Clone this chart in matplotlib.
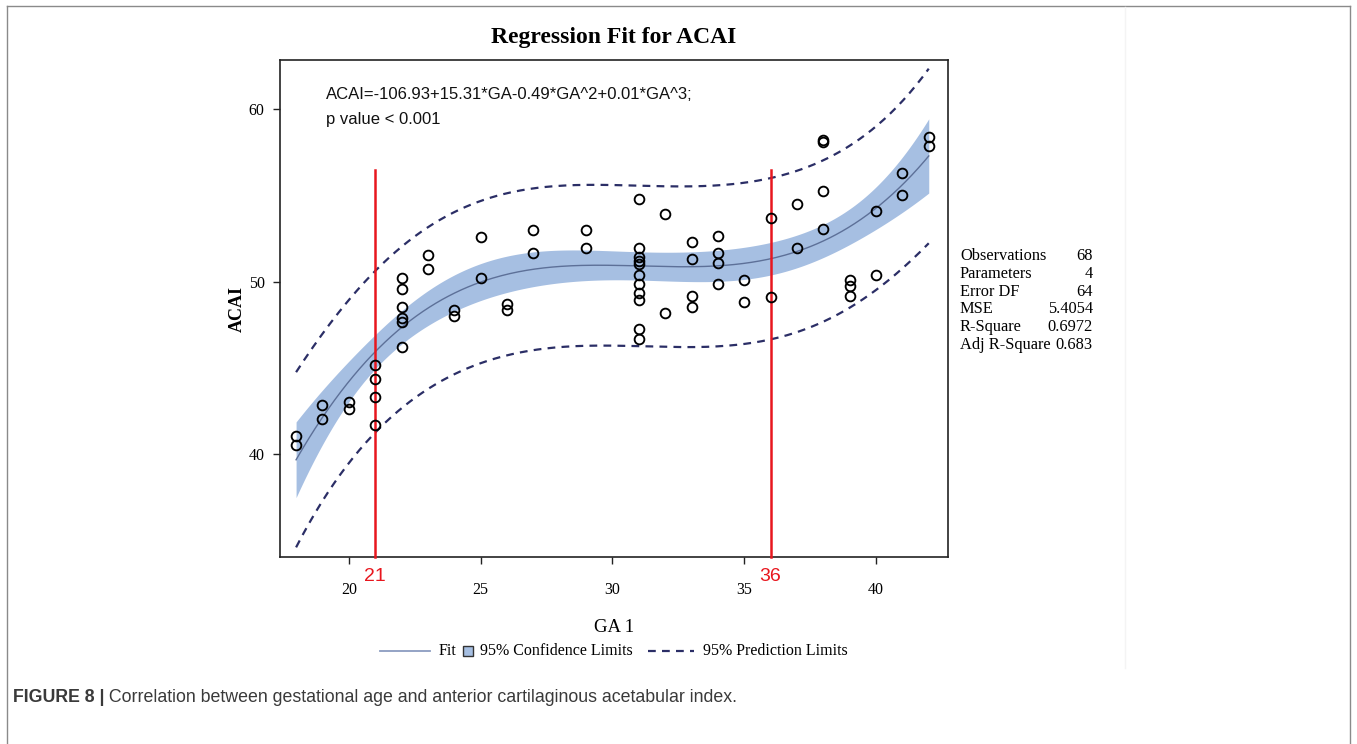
import numpy as np
import matplotlib
matplotlib.use("Agg")
import matplotlib.pyplot as plt
import matplotlib.transforms as mtransforms
from matplotlib.lines import Line2D

# ---------------- data ----------------
ga = [18, 18, 19, 19, 20, 20, 21, 21, 21, 21,
      22, 22, 22, 22, 22, 22, 23, 23, 24, 24,
      25, 25, 26, 26, 27, 27, 29, 29,
      31, 31, 31, 31, 31, 31, 31, 31, 31, 31, 31,
      32, 32, 33, 33, 33, 33, 34, 34, 34, 34,
      35, 35, 36, 36, 37, 37, 38, 38, 38, 38,
      39, 39, 39, 40, 40, 41, 41, 42, 42]
acai = [41.04, 40.52, 42.83, 42.02, 43.02, 42.64, 45.20, 44.34, 43.35, 41.68,
        50.21, 49.56, 48.55, 47.90, 47.69, 46.20, 51.54, 50.71, 48.38, 48.03,
        52.62, 50.19, 48.71, 48.36, 52.99, 51.66, 52.99, 51.97,
        54.82, 51.98, 51.41, 51.21, 51.02, 50.40, 49.86, 49.34, 48.96, 47.26, 46.69,
        53.91, 48.19, 52.31, 51.33, 49.15, 48.55, 52.66, 51.64, 51.06, 49.86,
        50.12, 48.80, 53.72, 49.13, 54.49, 51.98, 58.19, 58.09, 55.26, 53.08,
        50.10, 49.73, 49.15, 54.10, 50.40, 56.32, 55.01, 58.38, 57.86]

stat_labels = ["Observations", "Parameters", "Error DF", "MSE", "R-Square", "Adj R-Square"]
stat_values = ["68", "4", "64", "5.4054", "0.6972", "0.683"]
cut_points = [21, 36]
x_ticks = [20, 25, 30, 35, 40]
y_ticks = [40, 50, 60]
legend_labels = ["Fit", "95% Confidence Limits", "95% Prediction Limits"]
equation = "ACAI=-106.93+15.31*GA-0.49*GA^2+0.01*GA^3;"
pvalue_text = "p value < 0.001"
t_crit = 1.9977  # t(0.975, 64)

# ---------------- cubic regression with bands ----------------
x = np.asarray(ga, float)
y = np.asarray(acai, float)
X = np.vander(x, 4, increasing=True)
beta, *_ = np.linalg.lstsq(X, y, rcond=None)
resid = y - X @ beta
dof = len(x) - 4
mse = resid @ resid / dof
xtx_inv = np.linalg.inv(X.T @ X)
xg = np.linspace(x.min(), x.max(), 300)
Xg = np.vander(xg, 4, increasing=True)
fit = Xg @ beta
h = np.einsum("ij,jk,ik->i", Xg, xtx_inv, Xg)
ci = t_crit * np.sqrt(mse * h)
pi = t_crit * np.sqrt(mse * (1 + h))

# ---------------- figure ----------------
W, H = 1357, 744
fig = plt.figure(figsize=(W / 100, H / 100), dpi=100)
fig.patch.set_facecolor("white")


def fx(px):
    return px / W


def fy(py):
    return 1 - py / H


# outer frame (top, left, right) and faint paste edge
border_kw = dict(color="#8a8a8a", lw=1.0, transform=fig.transFigure)
fig.add_artist(Line2D([fx(7), fx(1350)], [fy(6), fy(6)], **border_kw))
fig.add_artist(Line2D([fx(7), fx(7)], [0, fy(6)], **border_kw))
fig.add_artist(Line2D([fx(1350), fx(1350)], [0, fy(6)], **border_kw))
fig.add_artist(Line2D([fx(1125), fx(1125)], [fy(668), fy(7)], color="#f4f4f4", lw=1.0,
                      transform=fig.transFigure))

left, right, top, bottom = 280, 948, 60, 557
ax = fig.add_axes([fx(left), fy(bottom), (right - left) / W, (bottom - top) / H])

band_color = "#a6bfe2"
fit_color = "#5d7098"
pi_color = "#2b2e66"
red = "#e8161e"
serif = "Liberation Serif"
sans = "Liberation Sans"

ax.fill_between(xg, fit - ci, fit + ci, color=band_color, lw=0, zorder=1)
ax.plot(xg, fit, color=fit_color, lw=1.0, zorder=2)
for sgn in (1, -1):
    ax.plot(xg, fit + sgn * pi, color=pi_color, lw=1.6, dashes=(3.5, 2.8), zorder=2)
ax.plot(x, y, linestyle="none", marker="o", markersize=7.0, markerfacecolor="none",
        markeredgecolor="black", markeredgewidth=1.35, zorder=4)

ylo, yhi = 34.05, 62.85
ax.set_xlim(17.39, 42.73)
ax.set_ylim(ylo, yhi)

# red cut lines with labels
for c in cut_points:
    ax.plot([c, c], [ylo, 56.5], color=red, lw=1.8, zorder=3, clip_on=False)
blend = mtransforms.blended_transform_factory(ax.transData, ax.transAxes)
for c in cut_points:
    ax.annotate(str(c), xy=(c, 0), xycoords=blend, xytext=(0, -14), textcoords="offset points",
                ha="center", va="center", color=red, fontsize=14, family=sans)

ax.set_xticks(x_ticks)
ax.set_yticks(y_ticks)
ax.set_xticklabels([str(v) for v in x_ticks], family=serif, fontsize=11.5)
ax.set_yticklabels([str(v) for v in y_ticks], family=serif, fontsize=11.5)
ax.tick_params(axis="both", direction="out", length=5, width=1.0, color="#222")
ax.tick_params(axis="x", pad=13)
ax.tick_params(axis="y", pad=6)
for sp in ax.spines.values():
    sp.set_color("#222")
    sp.set_linewidth(1.2)

ax.set_xlabel("GA 1", family=serif, fontsize=13.5, labelpad=15)
ax.set_ylabel("ACAI", family=serif, fontsize=13, fontweight="bold", labelpad=2)

# equation text
ax.text(0.069, 0.931, equation, transform=ax.transAxes, family=sans,
        fontsize=12, ha="left", va="center", color="#111")
ax.text(0.069, 0.880, pvalue_text, transform=ax.transAxes, family=sans,
        fontsize=12, ha="left", va="center", color="#111")

# title
fig.text(fx((left + right) / 2), fy(38), "Regression Fit for ACAI", ha="center", va="center",
         family=serif, fontsize=17, fontweight="bold")

# statistics table
row0, drow = 256, 17.8
for i, (lab, val) in enumerate(zip(stat_labels, stat_values)):
    yy = fy(row0 + i * drow)
    fig.text(fx(960), yy, lab, ha="left", va="center", family=serif, fontsize=11.8)
    fig.text(fx(1093), yy, val, ha="right", va="center", family=serif, fontsize=11.8)

# legend (drawn piece by piece to match the SAS layout)
ly = fy(651)
leg_font = dict(family=serif, fontsize=11.5, va="center", ha="left")
fig.add_artist(Line2D([fx(380), fx(430)], [ly, ly], color="#8b9cc0", lw=1.3,
                      transform=fig.transFigure))
fig.text(fx(439), ly, legend_labels[0], **leg_font)
fig.add_artist(Line2D([fx(468)], [ly], linestyle="none", marker="s", markersize=7.5,
                      markerfacecolor=band_color, markeredgecolor="#333", markeredgewidth=1.0,
                      transform=fig.transFigure))
fig.text(fx(480), ly, legend_labels[1], **leg_font)
fig.add_artist(Line2D([fx(648), fx(694)], [ly, ly], color=pi_color, lw=1.6, dashes=(3.5, 2.8),
                      transform=fig.transFigure))
fig.text(fx(703), ly, legend_labels[2], **leg_font)

# caption
t1 = fig.text(fx(13), fy(697), "FIGURE 8 |", ha="left", va="center",
              family=sans, fontweight="bold", fontsize=12.8, color="#3a3a3a")
ax.annotate(" Correlation between gestational age and anterior cartilaginous acetabular index.",
            xy=(1, 0.5), xycoords=t1, ha="left", va="center",
            family=sans, fontsize=12.8, color="#3a3a3a", annotation_clip=False)

fig.savefig("out.png", dpi=100, facecolor="white")
